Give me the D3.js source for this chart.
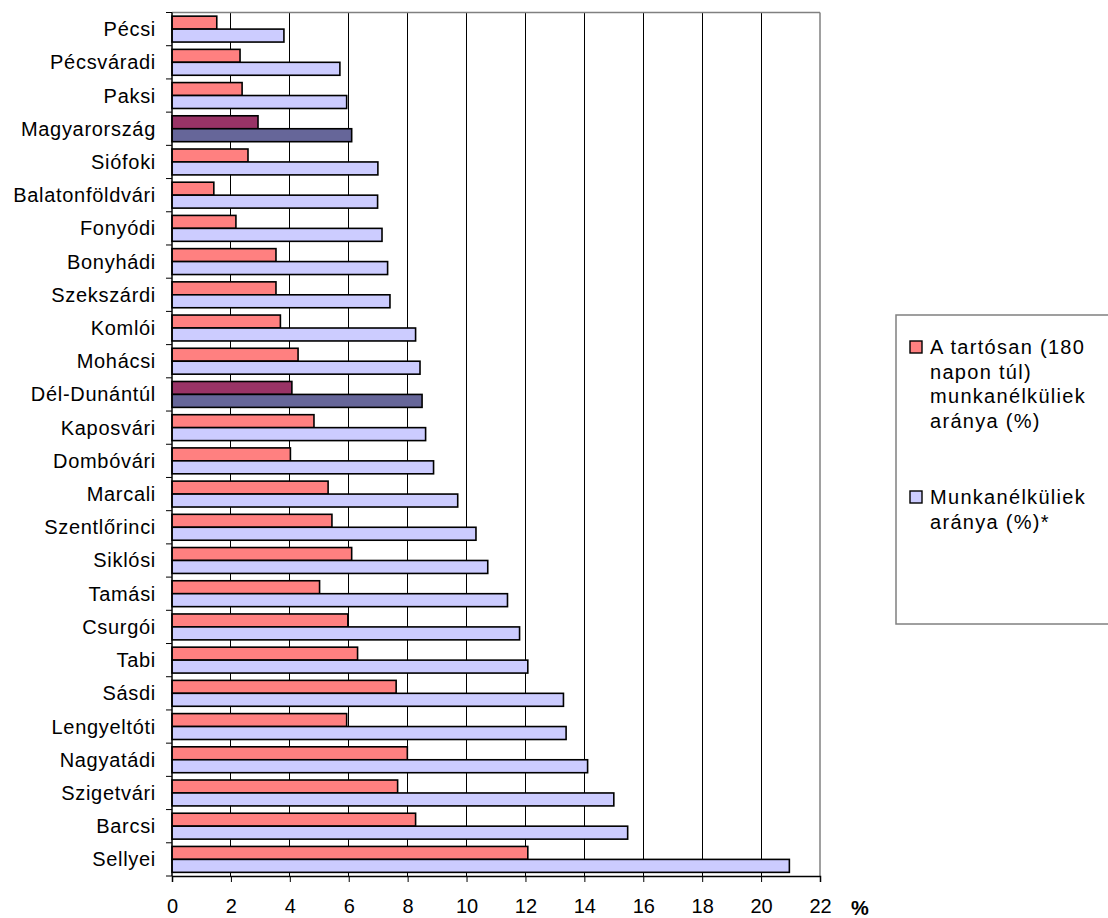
<!DOCTYPE html>
<html>
<head>
<meta charset="utf-8">
<script src="https://cdn.jsdelivr.net/npm/d3@7"></script>
<style>
  html, body { margin: 0; padding: 0; background: #fff; }
  svg { display: block; }
  text { font-family: "Liberation Sans", Arial, sans-serif; fill: #000; }
</style>
</head>
<body>
<svg id="chart" width="1108" height="918"></svg>
<script>
const categories = ["Pécsi","Pécsváradi","Paksi","Magyarország","Siófoki","Balatonföldvári","Fonyódi","Bonyhádi","Szekszárdi","Komlói","Mohácsi","Dél-Dunántúl","Kaposvári","Dombóvári","Marcali","Szentlőrinci","Siklósi","Tamási","Csurgói","Tabi","Sásdi","Lengyeltóti","Nagyatádi","Szigetvári","Barcsi","Sellyei"];
const longTerm = [1.52,2.31,2.38,2.92,2.58,1.42,2.17,3.53,3.53,3.68,4.28,4.07,4.82,4.02,5.30,5.43,6.10,5.01,5.97,6.30,7.61,5.93,7.99,7.66,8.27,12.08];
const unemployed = [3.80,5.70,5.93,6.10,6.99,6.98,7.13,7.32,7.40,8.27,8.42,8.49,8.61,8.88,9.70,10.32,10.72,11.39,11.80,12.08,13.29,13.38,14.11,15.00,15.47,20.96];
const highlighted = ["Magyarország","Dél-Dunántúl"];
const seriesKeys = ["long","all"];
const seriesLabels = [["A tartósan (180","napon túl)","munkanélküliek","aránya (%)"],["Munkanélküliek","aránya (%)*"]];
const xTicks = [0,2,4,6,8,10,12,14,16,18,20,22];
const colors = {long: "#FF8080", all: "#CCCCFF", longHi: "#993366", allHi: "#666699"};

const svg = d3.select("#chart");
const L = 172, R = 820, T = 12.5, B = 876;

const x = d3.scaleLinear().domain([0, 22]).range([L, R]);
const y = d3.scaleBand().domain(categories).range([T, B]).paddingInner(0.22).paddingOuter(0.11);
const yBand = d3.scaleBand().domain(categories).range([T, B]).padding(0);
const ys = d3.scaleBand().domain(seriesKeys).range([0, y.bandwidth()]);

// gridlines
svg.append("g").selectAll("line").data(xTicks.filter(d => d > 0 && d < 22)).join("line")
  .attr("x1", d => x(d)).attr("x2", d => x(d)).attr("y1", T).attr("y2", B)
  .attr("stroke", "#000").attr("stroke-width", 1).attr("shape-rendering", "crispEdges");

// plot border (top, right)
svg.append("line").attr("x1", L).attr("x2", R).attr("y1", T).attr("y2", T)
  .attr("stroke", "#808080").attr("stroke-width", 1.5);
svg.append("line").attr("x1", R).attr("x2", R).attr("y1", T).attr("y2", B)
  .attr("stroke", "#808080").attr("stroke-width", 1.5);

// bars
const rows = categories.map((c, i) => ({c, long: longTerm[i], all: unemployed[i], hi: highlighted.includes(c)}));
const g = svg.append("g");
rows.forEach(r => {
  seriesKeys.forEach(k => {
    g.append("rect")
      .attr("x", x(0))
      .attr("y", y(r.c) + ys(k))
      .attr("width", x(r[k]) - x(0))
      .attr("height", ys.bandwidth())
      .attr("fill", r.hi ? colors[k + "Hi"] : colors[k])
      .attr("stroke", "#000").attr("stroke-width", 1.6);
  });
});

// left axis
const yAxisG = svg.append("g");
yAxisG.append("line").attr("x1", L).attr("x2", L).attr("y1", T).attr("y2", B).attr("stroke", "#000").attr("stroke-width", 1.5);
const bounds = categories.map(c => yBand(c)).concat([B]);
yAxisG.selectAll("line.tk").data(bounds).join("line").attr("class", "tk")
  .attr("x1", L - 6).attr("x2", L).attr("y1", d => d).attr("y2", d => d)
  .attr("stroke", "#000").attr("stroke-width", 1);
yAxisG.selectAll("text").data(categories).join("text")
  .attr("x", 156).attr("y", d => yBand(d) + yBand.bandwidth() / 2)
  .attr("text-anchor", "end").attr("dominant-baseline", "central")
  .style("font-size", "20px").style("letter-spacing", "0.7px")
  .text(d => d);

// bottom axis
const xAxis = d3.axisBottom(x).tickValues(xTicks).tickSize(6).tickPadding(17).tickFormat(d3.format("d"));
const xg = svg.append("g").attr("transform", `translate(0,${B})`).call(xAxis);
xg.select(".domain").attr("stroke", "#000").attr("stroke-width", 1.5);
xg.selectAll(".tick line").attr("stroke", "#000");
xg.selectAll(".tick text").style("font-size", "20px").style("font-family", "'Liberation Sans', Arial, sans-serif").attr("fill", "#000");
svg.append("text").attr("x", 860).attr("y", 908).attr("text-anchor", "middle").attr("dominant-baseline", "central")
  .style("font-size", "20px").style("font-weight", "bold").text("%");

// legend
const lg = svg.append("g");
lg.append("rect").attr("x", 896).attr("y", 315).attr("width", 230).attr("height", 309)
  .attr("fill", "#fff").attr("stroke", "#808080").attr("stroke-width", 1.5);
const legendTop = [347, 497];
seriesKeys.forEach((k, i) => {
  lg.append("rect").attr("x", 910).attr("y", legendTop[i] - 6).attr("width", 12).attr("height", 12)
    .attr("fill", colors[k]).attr("stroke", "#000").attr("stroke-width", 1.4);
  seriesLabels[i].forEach((line, j) => {
    lg.append("text").attr("x", 930).attr("y", legendTop[i] + j * 24.5)
      .attr("dominant-baseline", "central")
      .style("font-size", "20px").style("letter-spacing", "1.3px")
      .text(line);
  });
});
</script>
</body>
</html>
